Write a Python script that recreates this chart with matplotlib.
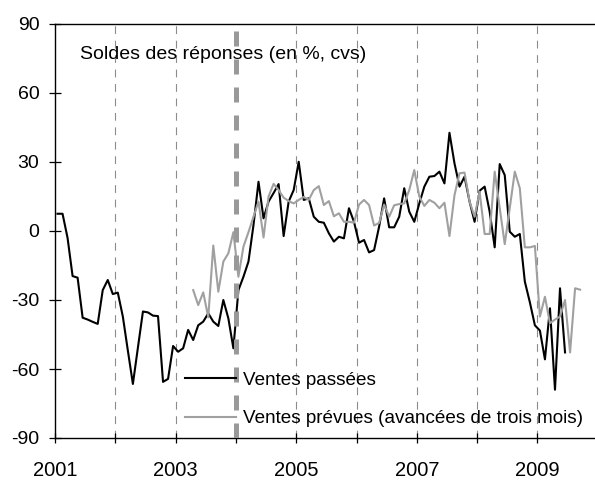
# Soldes des réponses : ventes passées et ventes prévues (commerce de détail)

import numpy as np
import matplotlib
matplotlib.use("Agg")
import matplotlib.pyplot as plt

# Ventes passées, mensuel, de janvier 2001 à juin 2009
ventes_passees = [
    7.5, 7.5, -3.0, -19.6, -20.3, -37.7, -38.5, -39.5, -40.4, -25.7, -21.3, -27.4,
    -26.8, -37.2, -52.0, -66.5, -50.7, -35.0, -35.4, -36.8, -37.0, -65.6, -64.3, -50.0,
    -52.5, -51.0, -43.0, -47.4, -41.0, -39.4, -35.8, -39.4, -41.3, -30.0, -38.0, -51.0,
    -25.7, -19.9, -13.3, 2.6, 21.4, 5.5, 12.8, 16.5, 20.4, -2.2, 12.8, 17.8,
    30.1, 13.5, 14.2, 6.2, 4.0, 3.6, -1.0, -4.6, -2.5, -3.2, 9.9, 4.0,
    -5.1, -3.9, -9.3, -8.3, 1.9, 14.2, 1.6, 1.6, 6.2, 18.6, 8.4, 4.0,
    12.0, 19.3, 23.6, 23.9, 25.8, 20.7, 42.7, 29.4, 19.3, 23.6, 12.8, 4.0,
    17.5, 19.3, 8.4, -7.1, 29.1, 24.3, -0.3, -2.5, -1.3, -22.0, -31.0, -41.0,
    -43.3, -55.8, -33.6, -69.0, -24.9, -52.8,
]
passees_start = (2001, 1)

# Ventes prévues (avancées de trois mois), d'avril 2003 à septembre 2009
ventes_prevues = [
    -25.7, -32.2, -26.7, -37.5, -6.3, -26.4, -13.3, -9.7, -0.5,
    -19.9, -6.8, -0.5, 6.2, 12.8, -2.8, 15.0, 20.5, 17.8, 14.5, 13.0, 12.0,
    13.5, 14.8, 13.5, 17.8, 19.5, 11.3, 13.0, 6.4, 7.7, 4.0, 4.0, 3.6,
    11.5, 13.5, 11.3, 2.4, 3.5, 11.5, 6.2, 11.2, 11.7, 12.0, 17.8, 26.5,
    15.0, 10.9, 13.5, 12.3, 9.9, 12.3, -2.2, 15.6, 25.1, 25.4, 12.8, 6.2,
    17.1, -1.3, -1.3, 25.8, 10.0, -5.7, 10.0, 25.8, 18.6, -7.1, -7.1, -6.5,
    -37.2, -28.6, -40.1, -38.5, -37.2, -30.0, -52.8, -24.9, -25.5,
]
prevues_start = (2003, 4)

year_ticks = list(range(2001, 2010))
year_labels = [str(y) if y % 2 == 1 else "" for y in year_ticks]
y_ticks = [-90, -60, -30, 0, 30, 60, 90]
break_year = 2004  # rupture de série
title = "Soldes des réponses (en %, cvs)"
labels = ["Ventes passées", "Ventes prévues (avancées de trois mois)"]


def month_axis(start, n):
    """Decimal years at mid-month for n monthly values."""
    year, month = start
    idx = np.arange(n) + (month - 1)
    return year + (idx + 0.5) / 12.0


plt.rcParams["font.family"] = ["Liberation Sans", "DejaVu Sans"]
plt.rcParams["axes.unicode_minus"] = False

fig = plt.figure(figsize=(5.95, 4.8), dpi=100)
ax = fig.add_axes([55 / 595, 42 / 480, 540 / 595, 414 / 480])

# vertical year separators
for yr in year_ticks[1:]:
    if yr == break_year:
        continue
    ax.axvline(yr, color="#8c8c8c", lw=0.8, linestyle=(0, (7, 6)), zorder=1)

x_p = month_axis(passees_start, len(ventes_passees))
x_f = month_axis(prevues_start, len(ventes_prevues))
ax.plot(x_p, ventes_passees, color="black", lw=1.5, label=labels[0], zorder=3)
ax.plot(x_f, ventes_prevues, color="#a0a0a0", lw=1.5, label=labels[1], zorder=4)

ax.axvline(break_year, color="#999999", lw=3.6, linestyle=(0, (3.0, 2.6)), zorder=5)

ax.set_xlim(2001, 2001 + 540 / 60.3)
ax.set_ylim(-90, 90)
ax.set_xticks(year_ticks)
ax.set_xticklabels(year_labels)
ax.set_yticks(y_ticks)
ax.tick_params(axis="both", direction="inout", width=0.9, colors="black")
ax.tick_params(axis="x", length=7, pad=13, labelsize=14.5)
ax.tick_params(axis="y", length=8.5, pad=7, labelsize=14)

for side in ("left", "bottom", "top"):
    ax.spines[side].set_linewidth(1.0)
ax.spines["right"].set_visible(False)

ax.text(25 / 540, (438 - 55) / 414, title, transform=ax.transAxes,
        fontsize=14, va="center", ha="left")

ax.legend(loc="lower left", bbox_to_anchor=(130 / 540, 0.026), frameon=False,
          fontsize=13.6, handlelength=2.7, handletextpad=0.38, labelspacing=1.12,
          borderpad=0, borderaxespad=0)

fig.savefig("out.png", dpi=100)
